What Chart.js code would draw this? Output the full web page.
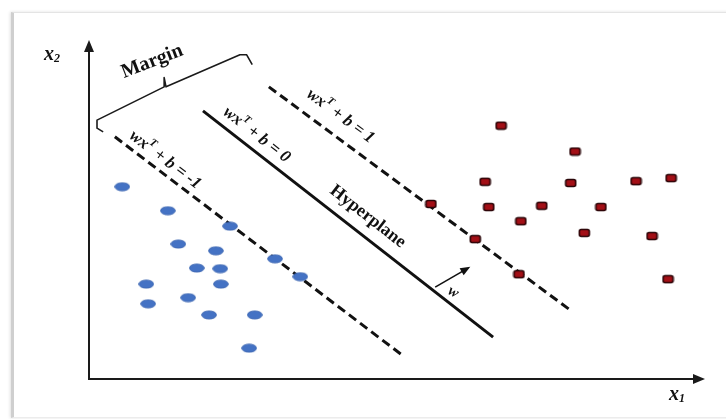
<!DOCTYPE html>
<html>
<head>
<meta charset="utf-8">
<title>SVM hyperplane and margin</title>
<script src="https://cdn.jsdelivr.net/npm/chart.js@4/dist/chart.umd.min.js"></script>
<style>
  html, body { margin: 0; padding: 0; background: #ffffff; }
  #wrap { position: relative; width: 726px; height: 419px; overflow: hidden; }
  #card {
    position: absolute; left: 11px; top: 12px; width: 780px; height: 404px;
    border-left: 3px solid #cfcfcf; border-top: 1px solid #e4e4e4; border-bottom: 1px solid #ececec;
    box-shadow: -1px 0 3px rgba(0,0,0,0.12);
    background: #ffffff;
  }
  #plot { position: absolute; left: 0; top: 0; }
</style>
</head>
<body>
<div id="wrap">
  <div id="card"></div>
  <canvas id="plot" width="726" height="419"></canvas>
</div>
<script>
// Class -1 samples (blue)
const blueX = [0.54, 1.28, 2.29, 1.45, 2.06, 1.75, 2.13, 0.93, 2.14, 1.61, 0.96, 1.95, 2.69, 2.60, 3.02, 3.43];
const blueY = [3.12, 2.73, 2.48, 2.19, 2.08, 1.80, 1.79, 1.54, 1.54, 1.32, 1.22, 1.04, 1.04, 0.50, 1.95, 1.66];

// Class +1 samples (red)
const redX = [6.69, 7.89, 6.43, 7.82, 8.88, 9.45, 5.55, 6.49, 7.35, 8.31, 7.01, 8.04, 9.14, 6.27, 6.98, 9.40];
const redY = [4.11, 3.69, 3.20, 3.18, 3.21, 3.26, 2.84, 2.79, 2.81, 2.79, 2.56, 2.37, 2.32, 2.27, 1.70, 1.62];

// Decision boundary and the two margin lines (end points)
const lowerX = [0.42, 5.08], lowerY = [3.93, 0.39];   // wx^T + b = -1
const hyperX = [1.85, 6.56], hyperY = [4.35, 0.68];   // wx^T + b = 0
const upperX = [2.92, 7.81], upperY = [4.74, 1.12];   // wx^T + b = 1

// Brace marking the margin width
const braceX = [0.23, 0.13, 0.13, 1.22, 1.22, 1.25, 2.45, 2.56, 2.65];
const braceY = [4.01, 4.07, 4.20, 4.74, 4.89, 4.74, 5.26, 5.26, 5.10];

// Normal vector w
const normalX = [5.62, 6.19], normalY = [1.49, 1.82];

// Axis extents
const xMax = 10, yMax = 5.5;

// Right-hand sides of the three line equations
const lineRhs = ['-1', '0', '1'];

const pts = (xs, ys) => xs.map((x, i) => ({ x, y: ys[i] }));

function ellipseSprite() {
  const c = document.createElement('canvas');
  c.width = 16; c.height = 10;
  const g = c.getContext('2d');
  g.fillStyle = '#4472c4';
  g.beginPath(); g.ellipse(8, 5, 7.4, 4.1, 0, 0, Math.PI * 2); g.fill();
  g.strokeStyle = '#3c66b0'; g.lineWidth = 0.8; g.stroke();
  return c;
}
function squareSprite() {
  const c = document.createElement('canvas');
  c.width = 13; c.height = 10;
  const g = c.getContext('2d');
  g.fillStyle = '#a30f16';
  g.strokeStyle = '#2a0508';
  g.lineWidth = 1.6;
  g.beginPath();
  g.roundRect(1.5, 1.5, 10, 7, 2);
  g.fill(); g.stroke();
  return c;
}

const SERIF = '"Liberation Serif", "Times New Roman", serif';

// Draw a run of text pieces (with optional raised pieces) centred on (cx, cy), rotated by ang
function drawRun(ctx, parts, cx, cy, ang) {
  ctx.save();
  ctx.translate(cx, cy);
  ctx.rotate(ang);
  ctx.textBaseline = 'middle';
  ctx.textAlign = 'left';
  let total = 0;
  parts.forEach(p => { ctx.font = p.font; total += ctx.measureText(p.text).width; });
  let x = -total / 2;
  parts.forEach(p => {
    ctx.font = p.font;
    ctx.fillStyle = '#111111';
    ctx.fillText(p.text, x, p.dy || 0);
    x += ctx.measureText(p.text).width;
  });
  ctx.restore();
}

function arrowHead(ctx, x0, y0, x1, y1, len, half) {
  const a = Math.atan2(y1 - y0, x1 - x0);
  ctx.beginPath();
  ctx.moveTo(x1, y1);
  ctx.lineTo(x1 - len * Math.cos(a) + half * Math.sin(a), y1 - len * Math.sin(a) - half * Math.cos(a));
  ctx.lineTo(x1 - len * Math.cos(a) - half * Math.sin(a), y1 - len * Math.sin(a) + half * Math.cos(a));
  ctx.closePath();
  ctx.fill();
}

const annotate = {
  id: 'svmAnnotate',
  beforeDatasetsDraw(chart) {
    const { ctx, scales: { x, y } } = chart;
    const ox = x.getPixelForValue(0), oy = y.getPixelForValue(0);
    const ex = x.getPixelForValue(xMax), ty = y.getPixelForValue(yMax);
    ctx.save();
    ctx.strokeStyle = '#1a1a1a';
    ctx.fillStyle = '#1a1a1a';
    ctx.lineWidth = 2;
    ctx.beginPath();
    ctx.moveTo(ox, ty + 6); ctx.lineTo(ox, oy); ctx.lineTo(ex - 6, oy);
    ctx.stroke();
    arrowHead(ctx, ox, oy, ox, ty, 12, 5);
    arrowHead(ctx, ox, oy, ex, oy, 12, 5);
    // axis names
    drawRun(ctx, [
      { text: 'x', font: `italic bold 20px ${SERIF}` },
      { text: '2', font: `italic bold 12px ${SERIF}`, dy: 4 }
    ], ox - 37, ty + 15, 0);
    drawRun(ctx, [
      { text: 'x', font: `italic bold 20px ${SERIF}` },
      { text: '1', font: `italic bold 12px ${SERIF}`, dy: 4 }
    ], ex - 28, oy + 16, 0);
    ctx.restore();
  },
  afterDatasetsDraw(chart) {
    const { ctx, scales: { x, y } } = chart;
    const px = v => x.getPixelForValue(v), py = v => y.getPixelForValue(v);
    ctx.save();

    // equation labels riding on each line
    const lines = [[lowerX, lowerY], [hyperX, hyperY], [upperX, upperY]];
    const spots = [{ t: 0.15, off: 12 }, { t: 0.155, off: 14 }, { t: 0.2, off: 19 }];
    lines.forEach(([lx, ly], i) => {
      const x0 = px(lx[0]), y0 = py(ly[0]), x1 = px(lx[1]), y1 = py(ly[1]);
      const len = Math.hypot(x1 - x0, y1 - y0);
      const ux = (x1 - x0) / len, uy = (y1 - y0) / len;
      const d = spots[i].t * len, n = spots[i].off;
      const cx = x0 + ux * d + uy * n, cy = y0 + uy * d - ux * n;
      drawRun(ctx, [
        { text: 'wx', font: `italic bold 17px ${SERIF}` },
        { text: 'T', font: `italic bold 11px ${SERIF}`, dy: -6 },
        { text: ' + b = ' + lineRhs[i], font: `italic bold 17px ${SERIF}` }
      ], cx, cy, Math.atan2(uy, ux));
    });

    // "Hyperplane" caption beside the solid line
    {
      const x0 = px(hyperX[0]), y0 = py(hyperY[0]), x1 = px(hyperX[1]), y1 = py(hyperY[1]);
      const len = Math.hypot(x1 - x0, y1 - y0);
      const ux = (x1 - x0) / len, uy = (y1 - y0) / len;
      const d = 0.53 * len, n = 18;
      drawRun(ctx, [{ text: 'Hyperplane', font: `bold 18px ${SERIF}` }],
        x0 + ux * d + uy * n, y0 + uy * d - ux * n, Math.atan2(uy, ux));
    }

    // "Margin" caption above the brace
    {
      const bx0 = px(braceX[2]), by0 = py(braceY[2]);
      const bx1 = px(braceX[6]), by1 = py(braceY[6]);
      const ang = Math.atan2(by1 - by0, bx1 - bx0) + 0.06;
      drawRun(ctx, [{ text: 'Margin', font: `bold 20px ${SERIF}` }],
        px(braceX[4]) - 12, py(braceY[4]) - 16, ang);
    }

    // normal vector w
    {
      const x0 = px(normalX[0]), y0 = py(normalY[0]), x1 = px(normalX[1]), y1 = py(normalY[1]);
      ctx.strokeStyle = '#111111'; ctx.fillStyle = '#111111'; ctx.lineWidth = 1.6;
      ctx.beginPath(); ctx.moveTo(x0, y0); ctx.lineTo(x1 - 4, y1 + 2.3); ctx.stroke();
      arrowHead(ctx, x0, y0, x1, y1, 10, 4);
      drawRun(ctx, [{ text: 'w', font: `italic bold 15px ${SERIF}` }], x0 + 18, y0 + 5, 0.5);
    }
    ctx.restore();
  }
};

new Chart(document.getElementById('plot'), {
  type: 'scatter',
  data: {
    datasets: [
      { label: 'class -1', data: pts(blueX, blueY), pointStyle: ellipseSprite(), pointRadius: 5, order: 1 },
      { label: 'class +1', data: pts(redX, redY), pointStyle: squareSprite(), pointRadius: 5, order: 1 },
      { label: 'wx+b=-1', data: pts(lowerX, lowerY), showLine: true, pointRadius: 0,
        borderColor: '#111111', borderWidth: 3, borderDash: [9, 5], order: 2 },
      { label: 'wx+b=0', data: pts(hyperX, hyperY), showLine: true, pointRadius: 0,
        borderColor: '#111111', borderWidth: 3, order: 2 },
      { label: 'wx+b=1', data: pts(upperX, upperY), showLine: true, pointRadius: 0,
        borderColor: '#111111', borderWidth: 3, borderDash: [9, 5], order: 2 },
      { label: 'margin', data: pts(braceX, braceY), showLine: true, pointRadius: 0,
        borderColor: '#1a1a1a', borderWidth: 1.6, borderJoinStyle: 'round', order: 2 }
    ]
  },
  options: {
    responsive: false,
    animation: false,
    devicePixelRatio: 1,
    layout: { padding: { left: 89, right: 21, top: 40, bottom: 40 } },
    scales: {
      x: { type: 'linear', min: 0, max: xMax, display: false },
      y: { type: 'linear', min: 0, max: yMax, display: false }
    },
    plugins: { legend: { display: false }, tooltip: { enabled: false } },
    clip: false
  },
  plugins: [annotate]
});
</script>
</body>
</html>
